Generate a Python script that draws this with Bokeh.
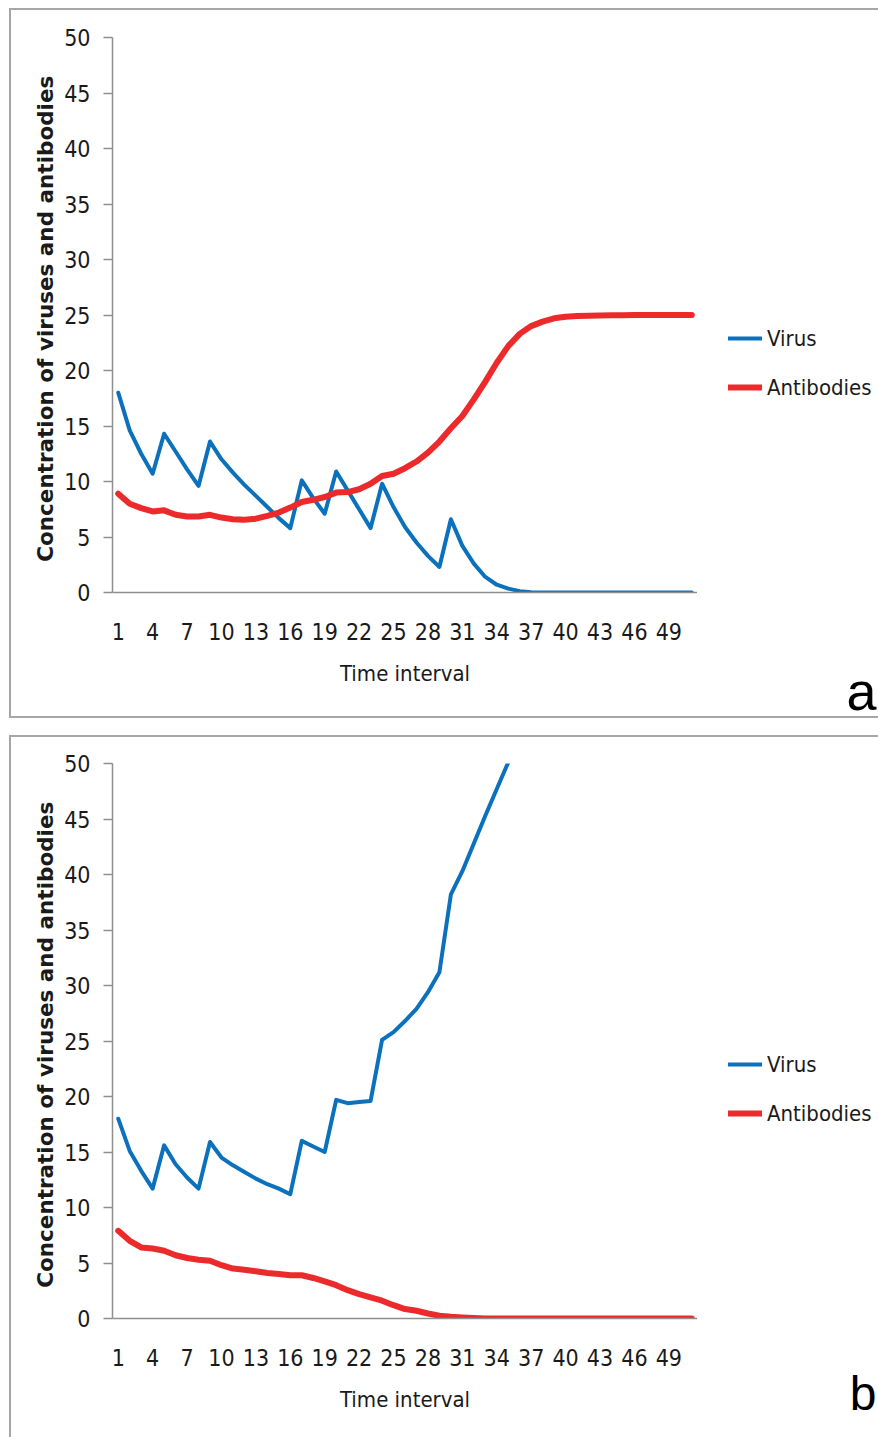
from bokeh.plotting import figure
from bokeh.models import Range1d, FixedTicker, Legend, LegendItem, Label
from bokeh.layouts import column, row
from bokeh.embed import file_html
from bokeh.resources import INLINE

# ---------------- data ----------------
time = list(range(1, 52))
y_ticks = list(range(0, 55, 5))
x_ticks = list(range(1, 50, 3))
series_names = ["Virus", "Antibodies"]
panel_labels = ["a", "b"]
x_title = "Time interval"
y_title = "Concentration of  viruses and antibodies"

virus_a = [18.0, 14.6, 12.5, 10.7, 14.3, 12.7, 11.1, 9.6, 13.6, 12.0,
           10.8, 9.7, 8.7, 7.7, 6.7, 5.8, 10.1, 8.5, 7.1, 10.9,
           9.2, 7.5, 5.8, 9.8, 7.7, 5.9, 4.5, 3.3, 2.3, 6.6,
           4.2, 2.6, 1.4, 0.7, 0.35, 0.12, 0.03, 0.0, 0.0, 0.0,
           0.0, 0.0, 0.0, 0.0, 0.0, 0.0, 0.0, 0.0, 0.0, 0.0, 0.0]
antibodies_a = [8.9, 8.0, 7.6, 7.3, 7.4, 7.0, 6.85, 6.85, 7.0, 6.75,
                6.6, 6.55, 6.65, 6.9, 7.2, 7.65, 8.15, 8.35, 8.6, 9.0,
                9.05, 9.3, 9.8, 10.5, 10.7, 11.2, 11.8, 12.6, 13.6, 14.8,
                15.9, 17.4, 19.0, 20.7, 22.2, 23.3, 24.0, 24.4, 24.7, 24.85,
                24.9, 24.93, 24.95, 24.97, 24.98, 25.0, 25.0, 25.0, 25.0, 25.0, 25.0]
virus_b = [18.0, 15.1, 13.3, 11.7, 15.6, 13.9, 12.7, 11.7, 15.9, 14.5,
           13.8, 13.2, 12.6, 12.1, 11.7, 11.2, 16.0, 15.5, 15.0, 19.7,
           19.4, 19.5, 19.6, 25.1, 25.8, 26.8, 27.9, 29.4, 31.2, 38.2,
           40.3, 42.8, 45.3, 47.7, 50.1, 52.5]
antibodies_b = [7.9, 7.0, 6.4, 6.3, 6.1, 5.7, 5.45, 5.3, 5.2, 4.8,
                4.5, 4.4, 4.25, 4.1, 4.0, 3.9, 3.9, 3.65, 3.35, 3.0,
                2.55, 2.2, 1.9, 1.6, 1.2, 0.85, 0.7, 0.45, 0.25, 0.15,
                0.1, 0.05, 0.0, 0.0, 0.0, 0.0, 0.0, 0.0, 0.0, 0.0,
                0.0, 0.0, 0.0, 0.0, 0.0, 0.0, 0.0, 0.0, 0.0, 0.0, 0.0]

# ---------------- style ----------------
NARROW = "DejaVu Sans Condensed"
BLUE = "#0B71BC"
RED = "#EC2A2C"
AXIS = "#8f8f8f"
TXT = "#1a1a1a"
BORDER = "#a6a6a6"
SIDE_W = 181
NAN = float("nan")


def make_main(virus, antibodies, top, bottom, shadow):
    p = figure(frame_width=585, frame_height=555,
               x_range=Range1d(0.5, 51.5), y_range=Range1d(0, 50),
               output_backend="svg", toolbar_location=None,
               min_border_left=103, min_border_right=0,
               min_border_top=top, min_border_bottom=bottom)
    p.frame_align = False
    p.background_fill_alpha = 0
    p.border_fill_alpha = 0
    p.outline_line_color = None
    p.xgrid.visible = False
    p.ygrid.visible = False

    p.line(time[:len(virus)], virus, line_color=BLUE, line_width=4,
           line_join="round", line_cap="round")
    p.line(time[:len(antibodies)], antibodies, line_color=RED, line_width=6,
           line_join="round", line_cap="round")

    ya = p.yaxis[0]
    ya.ticker = FixedTicker(ticks=y_ticks)
    ya.minor_tick_line_color = None
    ya.major_tick_in = 0
    ya.major_tick_out = 9
    ya.axis_line_color = AXIS
    ya.axis_line_width = 1.5
    ya.major_tick_line_color = AXIS
    ya.major_tick_line_width = 1.5
    ya.major_label_text_font = NARROW
    ya.major_label_text_font_size = "23px"
    ya.major_label_text_color = TXT
    ya.major_label_standoff = 13
    ya.axis_label = y_title
    ya.axis_label_text_font = "DejaVu Sans"
    ya.axis_label_text_font_size = "21.5px"
    ya.axis_label_text_font_style = "bold"
    ya.axis_label_text_color = TXT
    ya.axis_label_standoff = 3

    xa = p.xaxis[0]
    xa.ticker = FixedTicker(ticks=x_ticks)
    xa.minor_tick_line_color = None
    xa.major_tick_in = 0
    xa.major_tick_out = 0
    xa.axis_line_color = AXIS
    xa.axis_line_width = 1.5
    xa.major_label_text_font = NARROW
    xa.major_label_text_font_size = "23px"
    xa.major_label_text_color = TXT
    xa.major_label_standoff = 30
    xa.axis_label = x_title
    xa.axis_label_text_font = NARROW
    xa.axis_label_text_font_size = "22px"
    xa.axis_label_text_font_style = "normal"
    xa.axis_label_text_color = TXT
    xa.axis_label_standoff = 18

    p.styles = {"box-shadow": shadow}
    return p


def make_side(height, legend_y, label, label_size, label_y, shadow):
    s = figure(width=SIDE_W, height=height,
               x_range=Range1d(0, SIDE_W), y_range=Range1d(0, height),
               output_backend="svg", toolbar_location=None,
               x_axis_location=None, y_axis_location=None,
               min_border=0, title=None)
    s.frame_align = False
    s.background_fill_alpha = 0
    s.border_fill_alpha = 0
    s.outline_line_color = None
    s.xgrid.visible = False
    s.ygrid.visible = False

    # legend samples (a single missing point: nothing is drawn in the plot)
    kv = s.line([NAN], [NAN], line_color=BLUE, line_width=4, line_cap="round")
    ka = s.line([NAN], [NAN], line_color=RED, line_width=6, line_cap="round")
    legend = Legend(items=[LegendItem(label=series_names[0], renderers=[kv]),
                           LegendItem(label=series_names[1], renderers=[ka])],
                    location=(31, legend_y))
    legend.label_text_font = NARROW
    legend.label_text_font_size = "22px"
    legend.label_text_color = TXT
    legend.glyph_width = 34
    legend.glyph_height = 30
    legend.label_height = 30
    legend.label_standoff = 5
    legend.spacing = 19
    legend.padding = 0
    legend.margin = 0
    legend.border_line_alpha = 0
    legend.background_fill_alpha = 0
    s.add_layout(legend)

    s.add_layout(Label(x=SIDE_W - 2, y=label_y, x_units="screen", y_units="screen",
                       text=label, text_font="Liberation Sans",
                       text_font_size=label_size, text_color="black",
                       text_baseline="alphabetic", text_align="right"))
    s.styles = {"box-shadow": shadow}
    return s


pa = make_main(virus_a, antibodies_a, 29, 126,
               f"inset 2px 2px 0 0 {BORDER}, inset 0 -2px 0 0 {BORDER}")
sa = make_side(710, 316, panel_labels[0], "54px", 28,
               f"inset 0 2px 0 0 {BORDER}, inset 0 -2px 0 0 {BORDER}")
pb = make_main(virus_b, antibodies_b, 28, 119,
               f"inset 2px 2px 0 0 {BORDER}")
sb = make_side(702, 309, panel_labels[1], "48px", 44,
               f"inset 0 2px 0 0 {BORDER}")

row_a = row(pa, sa, spacing=0)
row_b = row(pb, sb, spacing=0)
row_a.margin = (8, 0, 0, 9)
row_b.margin = (17, 0, 0, 9)

layout = column(row_a, row_b, spacing=0)
open("out.html", "w").write(file_html(layout, INLINE))
